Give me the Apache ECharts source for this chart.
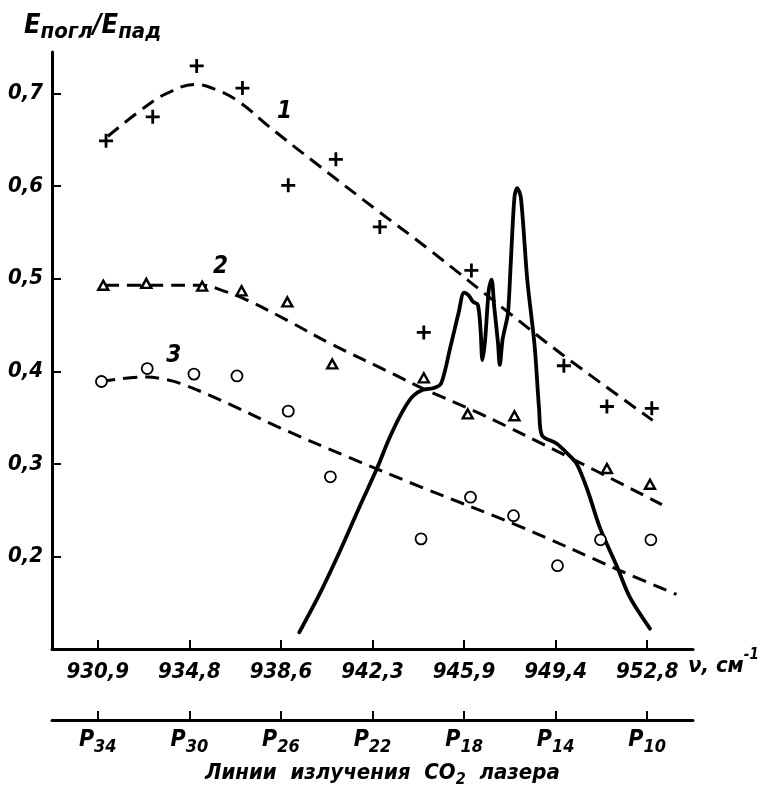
<!DOCTYPE html>
<html><head><meta charset="utf-8">
<script src="https://cdn.jsdelivr.net/npm/echarts@6/dist/echarts.min.js"></script>
<style>html,body{margin:0;padding:0;background:#fff}#c{width:766px;height:800px}</style>
</head><body><div id="c"></div>
<script>
// ---- axis labels ----
const nuLabels = ['930,9','934,8','938,6','942,3','945,9','949,4','952,8'];
const pLabels = ['34','30','26','22','18','14','10'];
const tickPos = [0,1,2,3,4,5,6];
const yTicks = [0.2,0.3,0.4,0.5,0.6,0.7];

// ---- measured points (x in laser-line tick units, 0 = P34 ... 6 = P10) ----
const s1X = [0.09,0.60,1.08,1.58,2.08,2.60,3.08,3.56,4.08,5.09,5.56,6.05];
const s1Y = [0.649,0.675,0.730,0.706,0.601,0.629,0.556,0.442,0.509,0.406,0.362,0.360];
const s2X = [0.06,0.53,1.14,1.57,2.07,2.56,3.56,4.04,4.55,5.56,6.03];
const s2Y = [0.493,0.495,0.492,0.487,0.475,0.408,0.393,0.354,0.352,0.295,0.278];
const s3X = [0.04,0.54,1.05,1.52,2.08,2.54,3.53,4.07,4.54,5.02,5.49,6.04];
const s3Y = [0.389,0.403,0.397,0.395,0.357,0.286,0.219,0.264,0.244,0.190,0.218,0.218];

// ---- dashed fit curves ----
const f1X = [0.11,0.55,0.79,1.06,1.30,1.56,1.85,2.43,3.05,3.60,4.48,5.06,6.06];
const f1Y = [0.654,0.688,0.702,0.710,0.704,0.690,0.666,0.621,0.574,0.533,0.464,0.419,0.347];
const f2X = [0.08,0.60,1.14,1.37,1.63,2.07,2.54,3.23,3.56,4.18,5.13,6.16];
const f2Y = [0.493,0.493,0.493,0.487,0.477,0.455,0.430,0.397,0.381,0.354,0.308,0.256];
const f3X = [0.04,0.53,0.75,0.90,1.34,1.99,2.72,3.53,4.62,5.72,6.32];
const f3Y = [0.389,0.394,0.391,0.387,0.369,0.339,0.308,0.275,0.232,0.184,0.159];

// ---- absorption spectrum (solid curve) ----
const spX = [2.20,2.43,2.65,2.86,3.04,3.19,3.33,3.44,3.55,3.67,3.75,3.85,3.94,4.00,4.05,4.10,4.15,4.18,4.20,4.23,4.27,4.30,4.33,4.37,4.39,4.42,4.45,4.48,4.51,4.55,4.58,4.62,4.69,4.77,4.82,4.85,5.01,5.12,5.23,5.35,5.48,5.67,5.81,6.03];
const spY = [0.118,0.161,0.207,0.254,0.293,0.329,0.357,0.373,0.380,0.382,0.387,0.426,0.463,0.485,0.482,0.475,0.472,0.445,0.412,0.434,0.488,0.499,0.469,0.431,0.407,0.434,0.448,0.463,0.517,0.588,0.598,0.588,0.499,0.428,0.358,0.331,0.322,0.312,0.300,0.271,0.232,0.189,0.156,0.122];

// ---- curve number labels ----
const curveNames = ['1','2','3'];
const curveNameX = [2.04,1.34,0.83];
const curveNameY = [0.680,0.513,0.417];

const zip = (xs, ys) => xs.map((x, i) => [x, ys[i]]);
const FONT = "'DejaVu Sans Condensed','DejaVu Sans',sans-serif";
const plusPath = 'path://M4,0H6V4H10V6H6V10H4V6H0V4H4Z';

const dashed = {type:[14,8], width:3, color:'#000', cap:'butt'};

const chart = echarts.init(document.getElementById('c'), null, {renderer:'canvas'});
chart.setOption({
  animation:false,
  backgroundColor:'#fff',
  grid:{left:52, right:73, top:52, bottom:151, outerBoundsMode:'none', containLabel:false},
  xAxis:[{
    type:'value', min:-0.5, max:6.5, position:'bottom',
    axisLine:{show:true, onZero:false, lineStyle:{color:'#000', width:3}},
    axisTick:{show:true, inside:true, length:9, lineStyle:{color:'#000', width:2}, customValues:tickPos},
    axisLabel:{show:true, customValues:tickPos, margin:12, color:'#000', fontSize:22, fontWeight:'bold', fontStyle:'italic', fontFamily:FONT,
      formatter:(v)=>nuLabels[Math.round(v)]},
    splitLine:{show:false}
  },{
    type:'value', min:-0.5, max:6.5, position:'bottom', offset:71,
    axisLine:{show:true, onZero:false, lineStyle:{color:'#000', width:3}},
    axisTick:{show:true, inside:true, length:9, lineStyle:{color:'#000', width:2}, customValues:tickPos},
    axisLabel:{show:true, customValues:tickPos, margin:4, color:'#000', fontFamily:FONT,
      formatter:(v)=>'{p|P}{s|'+pLabels[Math.round(v)]+'}',
      rich:{
        p:{fontSize:23, fontWeight:'bold', fontStyle:'italic', fontFamily:FONT, color:'#000', lineHeight:32, verticalAlign:'middle'},
        s:{fontSize:18, fontWeight:'bold', fontStyle:'italic', fontFamily:FONT, color:'#000', lineHeight:18, verticalAlign:'bottom'}
      }},
    splitLine:{show:false}
  }],
  yAxis:{
    type:'value', min:0.1, max:0.745,
    axisLine:{show:true, onZero:false, lineStyle:{color:'#000', width:3}},
    axisTick:{show:true, inside:true, length:9, lineStyle:{color:'#000', width:2}, customValues:yTicks},
    axisLabel:{show:true, customValues:yTicks, margin:9, color:'#000', fontSize:22, fontWeight:'bold', fontStyle:'italic', fontFamily:FONT,
      formatter:(v)=>v.toFixed(1).replace('.',',')},
    splitLine:{show:false}
  },
  graphic:[
    {type:'text', left:24, top:12, style:{
      text:'{e|E}{s|погл}{e|/E}{s|пад}',
      rich:{
        e:{fontSize:27, fontWeight:'bold', fontStyle:'italic', fontFamily:FONT, fill:'#000', lineHeight:36, verticalAlign:'middle'},
        s:{fontSize:22, fontWeight:'bold', fontStyle:'italic', fontFamily:FONT, fill:'#000', lineHeight:24, verticalAlign:'bottom'}
      }}},
    {type:'text', left:688, top:648, style:{
      text:'{m|ν, см}{u|-1}',
      rich:{
        m:{fontSize:22, fontWeight:'bold', fontStyle:'italic', fontFamily:FONT, fill:'#000', lineHeight:36, verticalAlign:'middle'},
        u:{fontSize:15, fontWeight:'bold', fontStyle:'italic', fontFamily:FONT, fill:'#000', lineHeight:16, verticalAlign:'top'}
      }}},
    {type:'text', left:205, top:762, style:{
      text:'{m|Линии  излучения  CO}{s|2}{m|  лазера}',
      rich:{
        m:{fontSize:22, fontWeight:'bold', fontStyle:'italic', fontFamily:FONT, fill:'#000', lineHeight:30, verticalAlign:'middle'},
        s:{fontSize:16, fontWeight:'bold', fontStyle:'italic', fontFamily:FONT, fill:'#000', lineHeight:16, verticalAlign:'bottom'}
      }}}
  ],
  series:[
    {type:'line', data:zip(f1X,f1Y), smooth:0.4, symbol:'none', lineStyle:dashed, z:2},
    {type:'line', data:zip(f2X,f2Y), smooth:0.4, symbol:'none', lineStyle:dashed, z:2},
    {type:'line', data:zip(f3X,f3Y), smooth:0.4, symbol:'none', lineStyle:dashed, z:2},
    {type:'line', data:zip(spX,spY), smooth:0.3, symbol:'none', lineStyle:{color:'#000', width:3.8, join:'round', cap:'round'}, z:3},
    {type:'scatter', data:zip(s1X,s1Y), symbol:plusPath, symbolSize:14, itemStyle:{color:'#000', opacity:1}, z:5},
    {type:'scatter', data:zip(s2X,s2Y), symbol:'triangle', symbolSize:[10,9], itemStyle:{color:'#fff', borderColor:'#000', borderWidth:2.4, opacity:1}, z:5},
    {type:'scatter', data:zip(s3X,s3Y), symbol:'circle', symbolSize:11, itemStyle:{color:'#fff', borderColor:'#000', borderWidth:1.8, opacity:1}, z:5},
    {type:'scatter', data:curveNameX.map((x,i)=>({value:[x,curveNameY[i]], name:curveNames[i]})), symbolSize:0, z:6,
      itemStyle:{opacity:1},
      label:{show:true, position:'inside', formatter:(p)=>p.name, color:'#000', opacity:1, fontSize:24, fontWeight:'bold', fontStyle:'italic', fontFamily:FONT}}
  ]
});
</script>
</body></html>
